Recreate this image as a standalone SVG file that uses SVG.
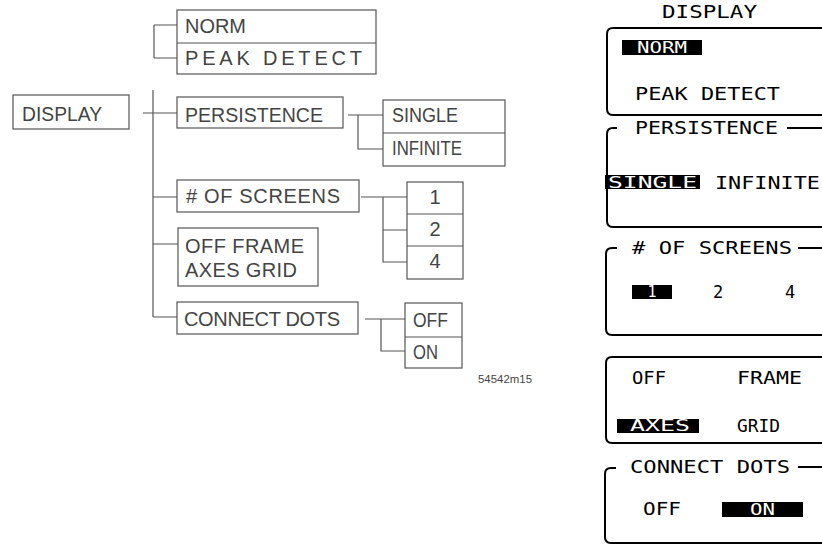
<svg xmlns="http://www.w3.org/2000/svg" width="822" height="554" viewBox="0 0 822 554">
<style>
.bx{fill:none;stroke:#555;stroke-width:1.2}
.cn{fill:none;stroke:#555;stroke-width:1.2}
.lt{font-family:"Liberation Sans",Arial,sans-serif;font-size:20px;fill:#444}
.pn{fill:none;stroke:#000;stroke-width:2}
.mt{font-family:"DejaVu Sans Mono","Liberation Mono",monospace;font-size:17px;fill:#000}
.hl{fill:#000}
.wt{font-family:"DejaVu Sans Mono","Liberation Mono",monospace;font-size:15px;fill:#fff}
.tag{font-family:"Liberation Sans",Arial,sans-serif;font-size:11px;fill:#444}
</style>
<rect width="822" height="554" fill="#fff"/>

<g id="connectors">
<path class="cn" d="M154 25 V58 M154 25 H177 M154 58 H177"/>
<path class="cn" d="M143 113 H177 M153 90 V317 M153 197 H177 M153 244 H178 M153 317 H177"/>
<path class="cn" d="M348 115 H383 M358 115 V149 H383"/>
<path class="cn" d="M361 197 H407 M383 197 V262 H407 M383 230 H407"/>
<path class="cn" d="M365 319 H405 M381 319 V351 H405"/>
</g>

<g id="node-display">
<rect class="bx" x="13" y="95" width="116" height="34"/>
<text class="lt" x="22" y="121" font-size="19.5" textLength="80" lengthAdjust="spacingAndGlyphs">DISPLAY</text>
</g>

<g id="node-norm-peak">
<rect class="bx" x="177" y="10" width="199" height="64"/>
<line class="bx" x1="177" y1="43" x2="376" y2="43"/>
<text class="lt" x="185" y="33" font-size="21" textLength="61" lengthAdjust="spacingAndGlyphs">NORM</text>
<text class="lt" x="185" y="65" font-size="21" textLength="177" lengthAdjust="spacing">PEAK DETECT</text>
</g>

<g id="node-persistence">
<rect class="bx" x="177" y="97" width="166" height="31"/>
<text class="lt" x="185" y="122" textLength="138" lengthAdjust="spacingAndGlyphs">PERSISTENCE</text>
</g>

<g id="node-single-infinite">
<rect class="bx" x="383" y="100" width="122" height="66"/>
<line class="bx" x1="383" y1="133" x2="505" y2="133"/>
<text class="lt" x="392" y="122" textLength="66" lengthAdjust="spacingAndGlyphs">SINGLE</text>
<text class="lt" x="392" y="155" textLength="70" lengthAdjust="spacingAndGlyphs">INFINITE</text>
</g>

<g id="node-screens">
<rect class="bx" x="177" y="180" width="182" height="32"/>
<text class="lt" x="186" y="203" textLength="154" lengthAdjust="spacing"># OF SCREENS</text>
</g>

<g id="node-1-2-4">
<rect class="bx" x="407" y="182" width="56" height="97"/>
<line class="bx" x1="407" y1="214" x2="463" y2="214"/>
<line class="bx" x1="407" y1="246" x2="463" y2="246"/>
<text class="lt" x="435" y="204" text-anchor="middle">1</text>
<text class="lt" x="435" y="236" text-anchor="middle">2</text>
<text class="lt" x="435" y="268" text-anchor="middle">4</text>
</g>

<g id="node-frame-grid">
<rect class="bx" x="178" y="228" width="140" height="58"/>
<text class="lt" x="185" y="253" textLength="119" lengthAdjust="spacing">OFF FRAME</text>
<text class="lt" x="185" y="277" textLength="112" lengthAdjust="spacing">AXES GRID</text>
</g>

<g id="node-connect-dots">
<rect class="bx" x="177" y="302" width="181" height="32"/>
<text class="lt" x="184" y="326" textLength="156" lengthAdjust="spacing">CONNECT DOTS</text>
</g>

<g id="node-off-on">
<rect class="bx" x="405" y="303" width="57" height="65"/>
<line class="bx" x1="405" y1="337" x2="462" y2="337"/>
<text class="lt" x="413" y="327" textLength="35" lengthAdjust="spacingAndGlyphs">OFF</text>
<text class="lt" x="413" y="359" textLength="25" lengthAdjust="spacingAndGlyphs">ON</text>
</g>

<text class="tag" x="478" y="383" textLength="54" lengthAdjust="spacingAndGlyphs">54542m15</text>

<g id="panel">
<text class="mt" x="662" y="18" font-size="16" textLength="95" lengthAdjust="spacingAndGlyphs">DISPLAY</text>

<g id="panel-mode">
<path class="pn" d="M822 28 H613 Q607 28 607 34 V109 Q607 115 613 115 H822"/>
<rect class="hl" x="622" y="40" width="80" height="15"/>
<text class="wt" x="637" y="53" textLength="50" lengthAdjust="spacingAndGlyphs">NORM</text>
<text class="mt" x="635" y="100" textLength="145" lengthAdjust="spacingAndGlyphs">PEAK DETECT</text>
</g>

<g id="panel-persistence">
<path class="pn" d="M617 128 H613 Q607 128 607 134 V221 Q607 227 613 227 H822 M787 128 H822"/>
<text class="mt" x="635" y="134" textLength="143" lengthAdjust="spacingAndGlyphs">PERSISTENCE</text>
<rect class="hl" x="605" y="175" width="95" height="14"/>
<text class="wt" x="608" y="188" textLength="89" lengthAdjust="spacingAndGlyphs">SINGLE</text>
<text class="mt" x="715" y="189" textLength="105" lengthAdjust="spacingAndGlyphs">INFINITE</text>
</g>

<g id="panel-screens">
<path class="pn" d="M617 248 H612 Q606 248 606 254 V329 Q606 335 612 335 H822 M798 248 H822"/>
<text class="mt" x="632" y="254" textLength="160" lengthAdjust="spacingAndGlyphs"># OF SCREENS</text>
<rect class="hl" x="632" y="285" width="40" height="14"/>
<text class="wt" x="652" y="297" font-size="13" text-anchor="middle">1</text>
<text class="mt" x="718" y="298" text-anchor="middle">2</text>
<text class="mt" x="790" y="298" text-anchor="middle">4</text>
</g>

<g id="panel-grid">
<path class="pn" d="M822 357 H612 Q606 357 606 363 V437 Q606 443 612 443 H822"/>
<text class="mt" x="632" y="384" textLength="34" lengthAdjust="spacingAndGlyphs">OFF</text>
<text class="mt" x="737" y="384" textLength="65" lengthAdjust="spacingAndGlyphs">FRAME</text>
<rect class="hl" x="617" y="419" width="82" height="14"/>
<text class="wt" x="630" y="431" textLength="60" lengthAdjust="spacingAndGlyphs">AXES</text>
<text class="mt" x="737" y="432" textLength="43" lengthAdjust="spacingAndGlyphs">GRID</text>
</g>

<g id="panel-connect">
<path class="pn" d="M616 468 H611 Q605 468 605 474 V537 Q605 543 611 543 H822 M798 467 H822"/>
<text class="mt" x="630" y="473" textLength="160" lengthAdjust="spacingAndGlyphs">CONNECT DOTS</text>
<text class="mt" x="643" y="515" textLength="38" lengthAdjust="spacingAndGlyphs">OFF</text>
<rect class="hl" x="722" y="502" width="81" height="15"/>
<text class="wt" x="750" y="515" textLength="25" lengthAdjust="spacingAndGlyphs">ON</text>
</g>
</g>
</svg>
